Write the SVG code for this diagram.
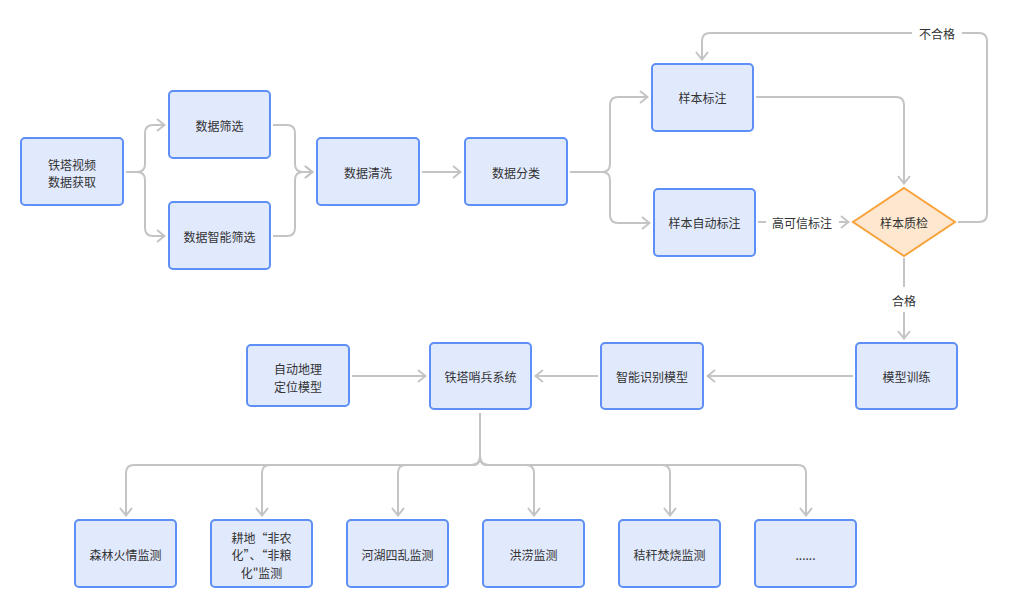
<svg xmlns="http://www.w3.org/2000/svg" width="1014" height="609" viewBox="0 0 1014 609" xml:lang="zh-CN" lang="zh-CN">
<style>
.n rect{fill:#e1e9fd;stroke:#5e8ff7;stroke-width:2}
.n polygon{fill:#fde7cf;stroke:#f7a23b;stroke-width:2}
text{font-family:"Noto Sans CJK SC","Noto Sans",sans-serif;font-size:12px;fill:#333;text-anchor:middle;dominant-baseline:central}
.c path{fill:none;stroke:#c4c4c4;stroke-width:2}
</style>
<defs>
<marker id="ar" viewBox="0 0 10 14" refX="9" refY="7" markerWidth="10" markerHeight="14" markerUnits="userSpaceOnUse" orient="auto">
<path d="M1,1 L8.5,7 L1,13" fill="none" stroke="#c4c4c4" stroke-width="2"/>
</marker>
</defs>
<rect width="1014" height="609" fill="#ffffff"/>
<g class="c" id="connectors">
<path d="M126,172 H137 Q145,172 145,164 V133 Q145,125 153,125 H165" marker-end="url(#ar)"/>
<path d="M126,172 H137 Q145,172 145,180 V228 Q145,236 153,236 H165" marker-end="url(#ar)"/>
<path d="M273,125 H287 Q295,125 295,133 V164 Q295,172 303,172 H313" marker-end="url(#ar)"/>
<path d="M273,236 H287 Q295,236 295,228 V180 Q295,172 303,172 H313" marker-end="url(#ar)"/>
<path d="M422,172 H461" marker-end="url(#ar)"/>
<path d="M570,172 H602 Q610,172 610,164 V105 Q610,97 618,97 H648" marker-end="url(#ar)"/>
<path d="M570,172 H602 Q610,172 610,180 V215 Q610,223 618,223 H650" marker-end="url(#ar)"/>
<path d="M756,97 H896 Q904,97 904,105 V184" marker-end="url(#ar)"/>
<path d="M758,222 H766"/>
<path d="M839,222 H849" marker-end="url(#ar)"/>
<path d="M958,222 H979 Q987,222 987,214 V41 Q987,33 979,33 H962"/>
<path d="M912,33 H710 Q702,33 702,41 V60" marker-end="url(#ar)"/>
<path d="M904,258 V287"/>
<path d="M904,312 V339" marker-end="url(#ar)"/>
<path d="M853,376 H707" marker-end="url(#ar)"/>
<path d="M598,376 H535" marker-end="url(#ar)"/>
<path d="M352,376 H426" marker-end="url(#ar)"/>
<path d="M480,413 V457 Q480,465 472,465 H134 Q126,465 126,473 V516" marker-end="url(#ar)"/>
<path d="M480,413 V457 Q480,465 472,465 H270 Q262,465 262,473 V516" marker-end="url(#ar)"/>
<path d="M480,413 V457 Q480,465 472,465 H406 Q398,465 398,473 V516" marker-end="url(#ar)"/>
<path d="M480,413 V457 Q480,465 488,465 H526 Q534,465 534,473 V516" marker-end="url(#ar)"/>
<path d="M480,413 V457 Q480,465 488,465 H662 Q670,465 670,473 V516" marker-end="url(#ar)"/>
<path d="M480,413 V457 Q480,465 488,465 H798 Q806,465 806,473 V516" marker-end="url(#ar)"/>
<text x="802" y="222">高可信标注</text>
<text x="937" y="33">不合格</text>
<text x="904" y="300">合格</text>
</g>
<g class="n" id="n_acquire"><rect x="21" y="138" width="102" height="67" rx="4"/><text x="72" y="164">铁塔视频</text><text x="72" y="181">数据获取</text></g>
<g class="n" id="n_filter"><rect x="169" y="91" width="101" height="67" rx="4"/><text x="219.5" y="125">数据筛选</text></g>
<g class="n" id="n_smartfilter"><rect x="169" y="202" width="101" height="67" rx="4"/><text x="219.5" y="236">数据智能筛选</text></g>
<g class="n" id="n_clean"><rect x="317" y="138" width="102" height="67" rx="4"/><text x="368" y="172">数据清洗</text></g>
<g class="n" id="n_classify"><rect x="465" y="138" width="102" height="67" rx="4"/><text x="516" y="172">数据分类</text></g>
<g class="n" id="n_label"><rect x="652" y="64" width="101" height="67" rx="4"/><text x="702.5" y="97">样本标注</text></g>
<g class="n" id="n_autolabel"><rect x="654" y="189" width="101" height="67" rx="4"/><text x="704.5" y="222">样本自动标注</text></g>
<g class="n" id="n_qc"><polygon points="904,188 955,222 904,256 853,222"/><text x="904" y="222">样本质检</text></g>
<g class="n" id="n_train"><rect x="856" y="343" width="101" height="66" rx="4"/><text x="906.5" y="376">模型训练</text></g>
<g class="n" id="n_recog"><rect x="601" y="343" width="102" height="66" rx="4"/><text x="652" y="376">智能识别模型</text></g>
<g class="n" id="n_sentinel"><rect x="430" y="343" width="101" height="66" rx="4"/><text x="480.5" y="376">铁塔哨兵系统</text></g>
<g class="n" id="n_geo"><rect x="247" y="345" width="102" height="61" rx="4"/><text x="298" y="368">自动地理</text><text x="298" y="386">定位模型</text></g>
<g class="n" id="n_fire"><rect x="75" y="520" width="101" height="67" rx="4"/><text x="125.5" y="554">森林火情监测</text></g>
<g class="n" id="n_farm"><rect x="211" y="520" width="101" height="67" rx="4"/><text x="261.5" y="537">耕地“非农</text><text x="261.5" y="554">化”、“非粮</text><text x="261.5" y="572">化"监测</text></g>
<g class="n" id="n_river"><rect x="347" y="520" width="101" height="67" rx="4"/><text x="397.5" y="554">河湖四乱监测</text></g>
<g class="n" id="n_flood"><rect x="483" y="520" width="101" height="67" rx="4"/><text x="533.5" y="554">洪涝监测</text></g>
<g class="n" id="n_straw"><rect x="619" y="520" width="101" height="67" rx="4"/><text x="669.5" y="554">秸秆焚烧监测</text></g>
<g class="n" id="n_more"><rect x="755" y="520" width="101" height="67" rx="4"/><text x="805.5" y="554">......</text></g>
</svg>
